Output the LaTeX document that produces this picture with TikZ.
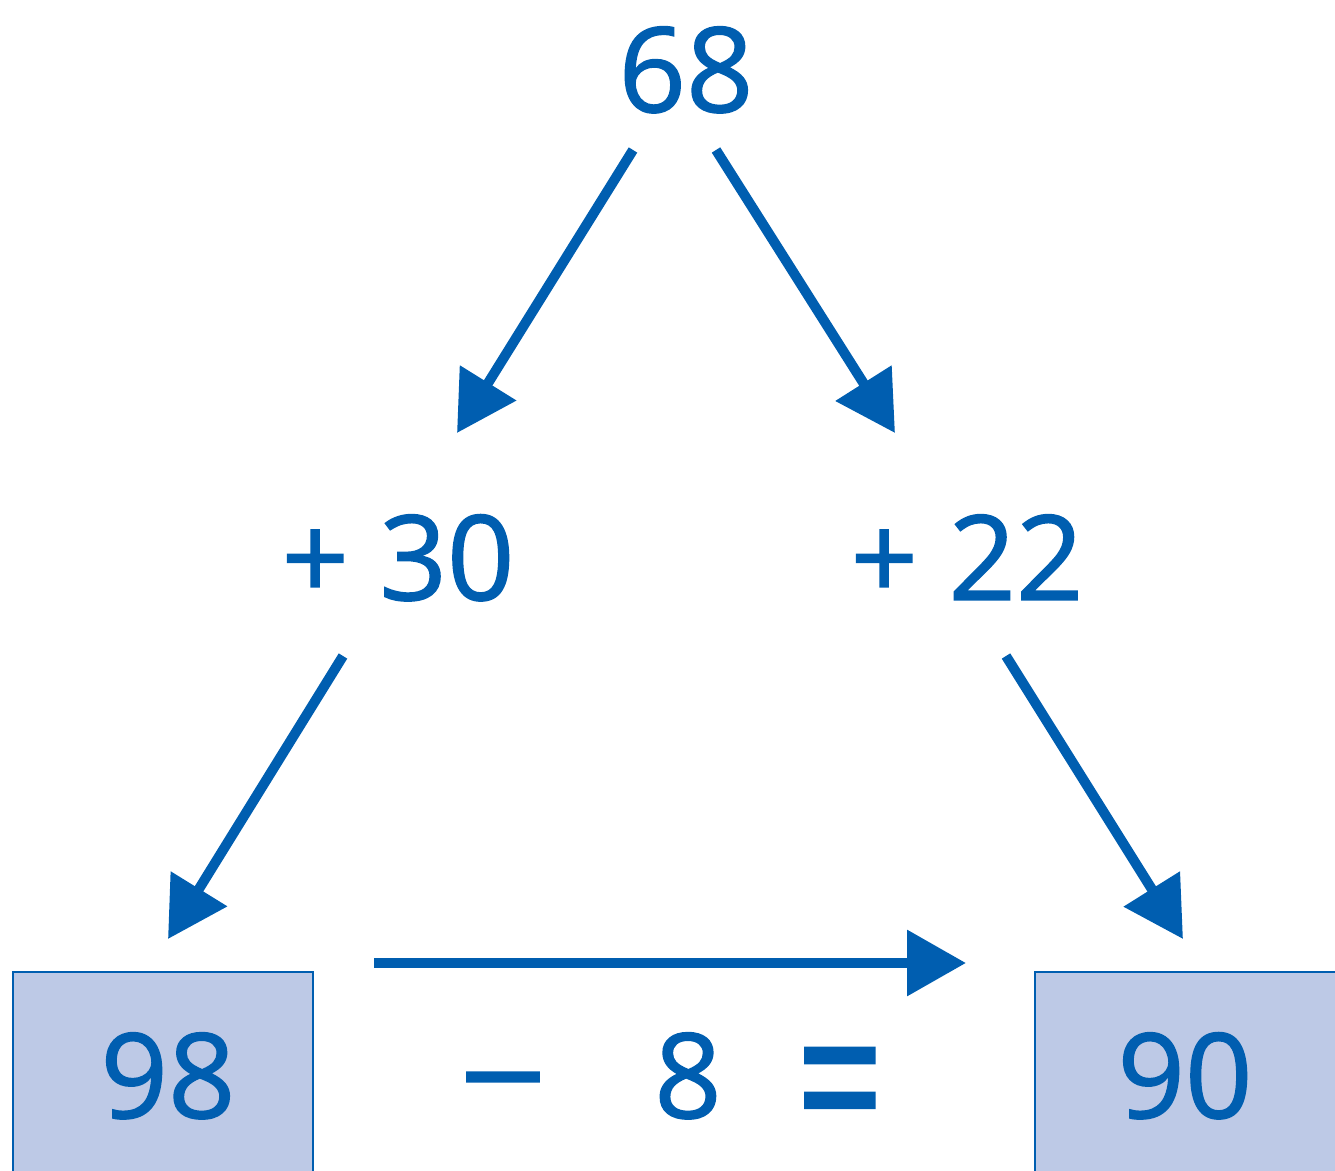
\documentclass[tikz,border=0pt]{standalone}
\usepackage{fontspec}
\setmainfont{Open Sans}
\newfontfamily\numfont{Open Sans}[FakeBold=1.2]
\usetikzlibrary{arrows.meta}
\definecolor{mblue}{HTML}{005EB0}
\definecolor{boxfill}{HTML}{BDC9E6}
\begin{document}
\begin{tikzpicture}[x=0.5pt,y=-0.5pt,
  num/.style={text=mblue,font=\numfont\fontsize{59}{70}\selectfont,inner sep=0pt,anchor=base},
  arr/.style={draw=mblue,line width=5pt,-{Triangle[length=29.5pt,width=32pt]}},
  valbox/.style={draw=mblue,line width=0.6pt,fill=boxfill}]
\useasboundingbox (0,0) rectangle (1335,1171);
% boxes
\path[valbox] (13,972) rectangle (313,1180);
\path[valbox] (1035,972) rectangle (1340,1180);
% texts
\node[num] (n68) at (686,112) {68};
\node[num] (p30) at (398,600) {+ 30};
\node[num] (p22) at (967,600) {+ 22};
\node[num] (n98) at (168,1118) {98};
\node[num] (n90) at (1185,1118) {90};
\node[num] (mn) at (503,1127) {\scalebox{1.3}[1.2]{−}};
\node[num] (n8) at (688,1118) {8};
\node[num] (eq) at (840,1157) {\scalebox{1.3}[1.9]{=}};
% arrow coordinates
\coordinate (a1s) at (633,150); \coordinate (a1e) at (457,433);
\coordinate (a2s) at (716,150); \coordinate (a2e) at (895,433);
\coordinate (a3s) at (343,656); \coordinate (a3e) at (168,939);
\coordinate (a4s) at (1006,656); \coordinate (a4e) at (1183,939);
\coordinate (a5s) at (374,963); \coordinate (a5e) at (966,963);
\draw[arr] (a1s) -- (a1e);
\draw[arr] (a2s) -- (a2e);
\draw[arr] (a3s) -- (a3e);
\draw[arr] (a4s) -- (a4e);
\draw[arr] (a5s) -- (a5e);
\end{tikzpicture}
\end{document}
